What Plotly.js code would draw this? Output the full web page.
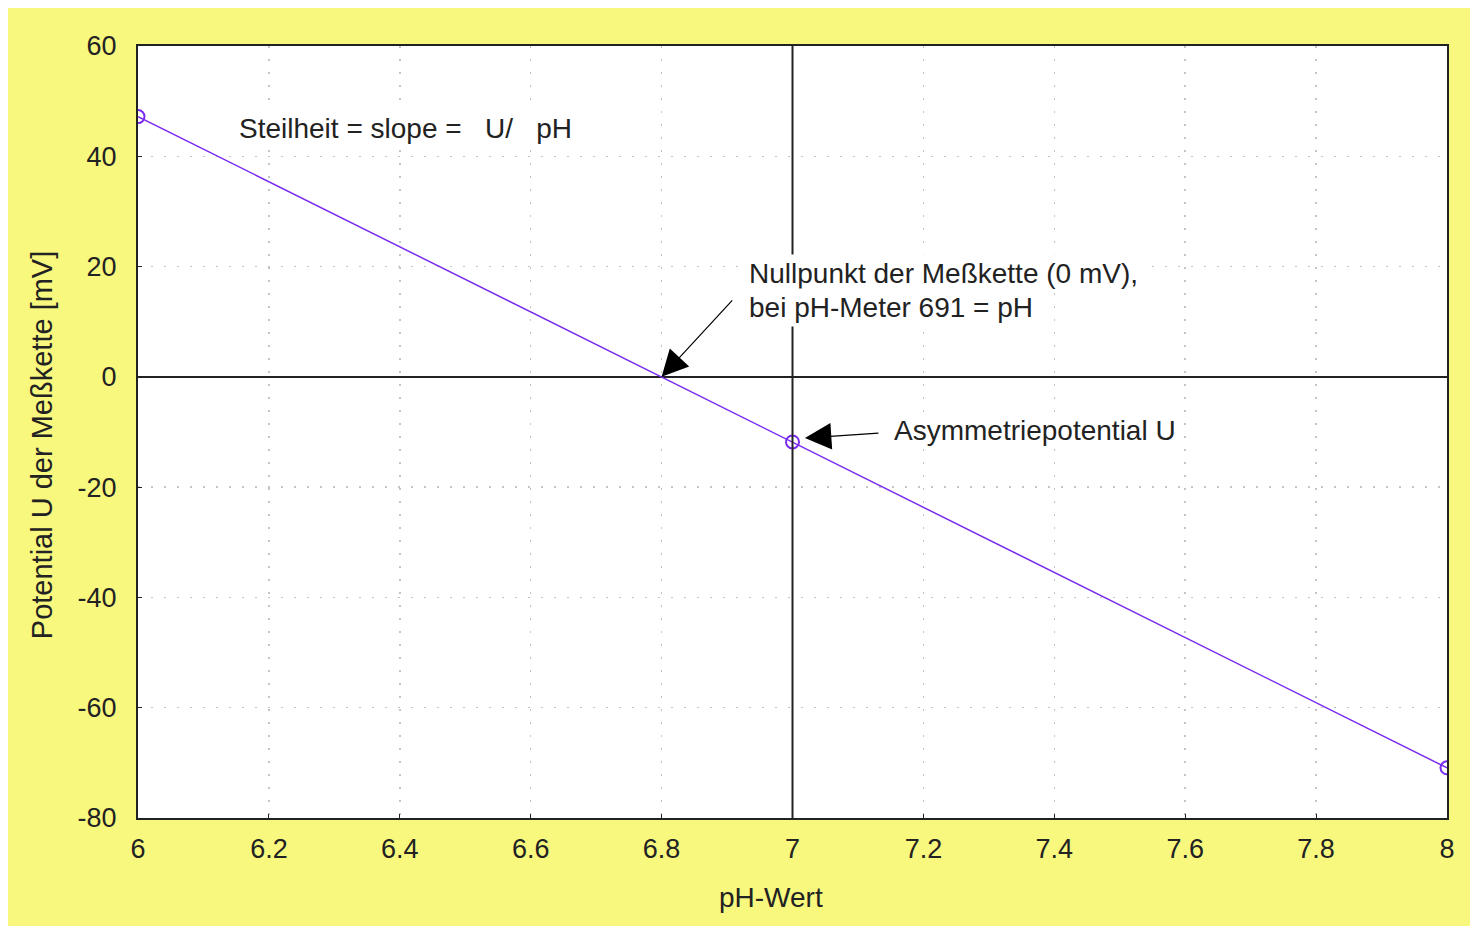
<!DOCTYPE html>
<html>
<head>
<meta charset="utf-8">
<script src="https://cdn.plot.ly/plotly-3.0.1.min.js"></script>
<style>
  html, body { margin: 0; padding: 0; background: #ffffff; width: 1470px; height: 926px; overflow: hidden; }
  #chart { position: absolute; left: 8px; top: 8px; width: 1462px; height: 918px; }
</style>
</head>
<body>
<div id="chart"></div>
<script>
// Data
const phValues = [6, 7, 8];
const potentialMV = [47.2, -11.8, -70.9];
const xTickVals = [6, 6.2, 6.4, 6.6, 6.8, 7, 7.2, 7.4, 7.6, 7.8, 8];
const xTickText = ["6", "6.2", "6.4", "6.6", "6.8", "7", "7.2", "7.4", "7.6", "7.8", "8"];
const yTickVals = [-80, -60, -40, -20, 0, 20, 40, 60];
const yTickText = ["-80", "-60", "-40", "-20", "0", "20", "40", "60"];
const zeroPointPH = 6.8;
const referencePH = 7;

const FONT = "Liberation Sans, Arial, sans-serif";
const TXT = "#222222";
const FS = 27;
const AFS = 28;

const trace = {
  x: phValues,
  y: potentialMV,
  type: "scatter",
  mode: "lines+markers",
  line: { color: "#7a2cf0", width: 1.5 },
  marker: { symbol: "circle-open", size: 13, color: "#7a2cf0", line: { width: 2, color: "#7a2cf0" } },
  cliponaxis: true,
  showlegend: false,
  hoverinfo: "x+y"
};

const gridStyle = {
  showgrid: true,
  gridcolor: "#c4c4c4",
  griddash: "2px,11px",
  gridwidth: 1.5
};

const labelFont = { family: FONT, size: AFS, color: TXT };

const layout = {
  width: 1462,
  height: 918,
  paper_bgcolor: "#f8f87f",
  plot_bgcolor: "#ffffff",
  margin: { l: 130, r: 23, t: 38, b: 108, pad: 0 },
  font: { family: FONT, size: FS, color: TXT },
  showlegend: false,
  xaxis: Object.assign({
    range: [6, 8],
    tickvals: xTickVals,
    ticktext: xTickText,
    zeroline: false,
    showline: true,
    linecolor: "#222222",
    linewidth: 2,
    mirror: true,
    ticks: "inside",
    ticklen: 4,
    tickcolor: "#222222",
    ticklabelstandoff: 6,
    tickfont: { family: FONT, size: FS, color: TXT },
    fixedrange: true
  }, gridStyle),
  yaxis: Object.assign({
    range: [-80, 60],
    tickvals: yTickVals,
    ticktext: yTickText,
    zeroline: true,
    zerolinecolor: "#222222",
    zerolinewidth: 2,
    showline: true,
    linecolor: "#222222",
    linewidth: 2,
    mirror: true,
    ticks: "inside",
    ticklen: 4,
    tickcolor: "#222222",
    ticklabelstandoff: 14,
    tickfont: { family: FONT, size: FS, color: TXT },
    fixedrange: true
  }, gridStyle),
  shapes: [
    {
      type: "line", xref: "x", yref: "paper",
      x0: referencePH, x1: referencePH, y0: 0, y1: 1,
      line: { color: "#222222", width: 2 },
      layer: "above"
    }
  ],
  annotations: [
    // axis titles
    { text: "pH-Wert", xref: "paper", yref: "paper", x: 0.4836, y: -0.1036,
      xanchor: "center", yanchor: "middle", showarrow: false,
      font: { family: FONT, size: 28, color: TXT } },
    { text: "Potential U der Meßkette [mV]", xref: "paper", yref: "paper", x: -0.0733, y: 0.483,
      xanchor: "center", yanchor: "middle", textangle: -90, showarrow: false,
      font: { family: FONT, size: 29, color: TXT } },
    // text labels (white boxes hide grid / reference line behind them)
    { text: "Steilheit = slope =   U/   pH", xref: "x", yref: "y", x: 6.1497, y: 45.13,
      xanchor: "left", yanchor: "middle", showarrow: false,
      bgcolor: "#ffffff", borderpad: 2, font: labelFont },
    { text: "Nullpunkt der Meßkette (0 mV),", xref: "x", yref: "y",
      x: 6.9274, y: 18.8, xanchor: "left", yanchor: "middle", showarrow: false,
      bgcolor: "#ffffff", borderpad: 3, font: labelFont },
    { text: "bei pH-Meter 691 = pH", xref: "x", yref: "y",
      x: 6.9274, y: 12.65, xanchor: "left", yanchor: "middle", showarrow: false,
      bgcolor: "#ffffff", borderpad: 3, font: labelFont },
    { text: "Asymmetriepotential U", xref: "x", yref: "y", x: 7.1505, y: -9.64,
      xanchor: "left", yanchor: "middle", showarrow: false,
      bgcolor: "#ffffff", borderpad: 2, font: labelFont },
    // arrows
    { text: "", xref: "x", yref: "y", x: zeroPointPH, y: 0, ax: 72, ay: -78,
      showarrow: true, arrowhead: 2, arrowsize: 4.4, arrowwidth: 1.2, arrowcolor: "#000000", standoff: 0 },
    { text: "", xref: "x", yref: "y", x: 7.019, y: -11.09, ax: 75, ay: -5,
      showarrow: true, arrowhead: 2, arrowsize: 4.4, arrowwidth: 1.2, arrowcolor: "#000000", standoff: 0 }
  ]
};

Plotly.newPlot("chart", [trace], layout, { displayModeBar: false, staticPlot: true });
</script>
</body>
</html>
